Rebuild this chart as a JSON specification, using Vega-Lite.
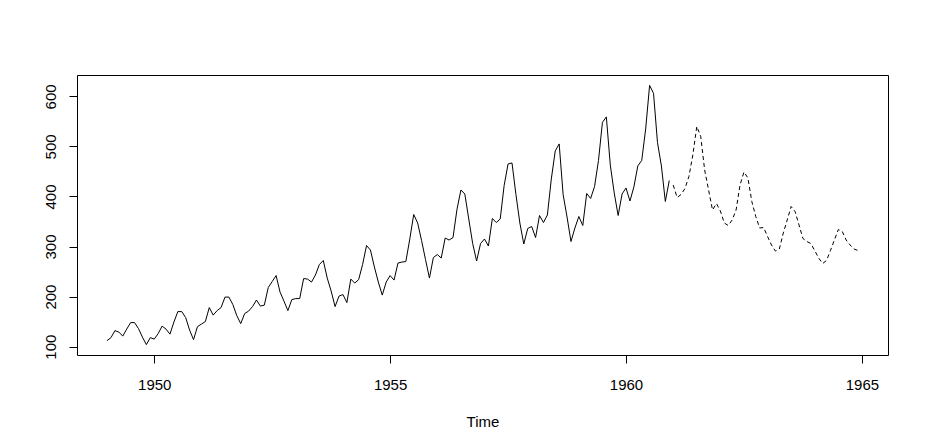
{
  "$schema": "https://vega.github.io/schema/vega-lite/v6.json",
  "width": 811,
  "height": 280,
  "autosize": "none",
  "padding": {"left": 77, "top": 75, "right": 41, "bottom": 89},
  "background": "white",
  "config": {
    "view": {"stroke": "black", "strokeWidth": 1},
    "font": "Liberation Sans",
    "axis": {
      "domain": false,
      "grid": false,
      "tickColor": "black",
      "tickSize": 8,
      "tickWidth": 1,
      "labelColor": "black",
      "labelFont": "Liberation Sans",
      "labelFontSize": 15,
      "labelPadding": 14,
      "titleFont": "Liberation Sans",
      "titleFontSize": 15,
      "titleFontWeight": "normal",
      "titleColor": "black"
    }
  },
  "data": {
    "values": [
      {"t": 1949.0000, "v": 112, "s": "obs"}, {"t": 1949.0833, "v": 118, "s": "obs"}, {"t": 1949.1667, "v": 132, "s": "obs"}, {"t": 1949.2500, "v": 129, "s": "obs"}, {"t": 1949.3333, "v": 121, "s": "obs"}, {"t": 1949.4167, "v": 135, "s": "obs"}, {"t": 1949.5000, "v": 148, "s": "obs"}, {"t": 1949.5833, "v": 148, "s": "obs"}, {"t": 1949.6667, "v": 136, "s": "obs"}, {"t": 1949.7500, "v": 119, "s": "obs"}, {"t": 1949.8333, "v": 104, "s": "obs"}, {"t": 1949.9167, "v": 118, "s": "obs"},
      {"t": 1950.0000, "v": 115, "s": "obs"}, {"t": 1950.0833, "v": 126, "s": "obs"}, {"t": 1950.1667, "v": 141, "s": "obs"}, {"t": 1950.2500, "v": 135, "s": "obs"}, {"t": 1950.3333, "v": 125, "s": "obs"}, {"t": 1950.4167, "v": 149, "s": "obs"}, {"t": 1950.5000, "v": 170, "s": "obs"}, {"t": 1950.5833, "v": 170, "s": "obs"}, {"t": 1950.6667, "v": 158, "s": "obs"}, {"t": 1950.7500, "v": 133, "s": "obs"}, {"t": 1950.8333, "v": 114, "s": "obs"}, {"t": 1950.9167, "v": 140, "s": "obs"},
      {"t": 1951.0000, "v": 145, "s": "obs"}, {"t": 1951.0833, "v": 150, "s": "obs"}, {"t": 1951.1667, "v": 178, "s": "obs"}, {"t": 1951.2500, "v": 163, "s": "obs"}, {"t": 1951.3333, "v": 172, "s": "obs"}, {"t": 1951.4167, "v": 178, "s": "obs"}, {"t": 1951.5000, "v": 199, "s": "obs"}, {"t": 1951.5833, "v": 199, "s": "obs"}, {"t": 1951.6667, "v": 184, "s": "obs"}, {"t": 1951.7500, "v": 162, "s": "obs"}, {"t": 1951.8333, "v": 146, "s": "obs"}, {"t": 1951.9167, "v": 166, "s": "obs"},
      {"t": 1952.0000, "v": 171, "s": "obs"}, {"t": 1952.0833, "v": 180, "s": "obs"}, {"t": 1952.1667, "v": 193, "s": "obs"}, {"t": 1952.2500, "v": 181, "s": "obs"}, {"t": 1952.3333, "v": 183, "s": "obs"}, {"t": 1952.4167, "v": 218, "s": "obs"}, {"t": 1952.5000, "v": 230, "s": "obs"}, {"t": 1952.5833, "v": 242, "s": "obs"}, {"t": 1952.6667, "v": 209, "s": "obs"}, {"t": 1952.7500, "v": 191, "s": "obs"}, {"t": 1952.8333, "v": 172, "s": "obs"}, {"t": 1952.9167, "v": 194, "s": "obs"},
      {"t": 1953.0000, "v": 196, "s": "obs"}, {"t": 1953.0833, "v": 196, "s": "obs"}, {"t": 1953.1667, "v": 236, "s": "obs"}, {"t": 1953.2500, "v": 235, "s": "obs"}, {"t": 1953.3333, "v": 229, "s": "obs"}, {"t": 1953.4167, "v": 243, "s": "obs"}, {"t": 1953.5000, "v": 264, "s": "obs"}, {"t": 1953.5833, "v": 272, "s": "obs"}, {"t": 1953.6667, "v": 237, "s": "obs"}, {"t": 1953.7500, "v": 211, "s": "obs"}, {"t": 1953.8333, "v": 180, "s": "obs"}, {"t": 1953.9167, "v": 201, "s": "obs"},
      {"t": 1954.0000, "v": 204, "s": "obs"}, {"t": 1954.0833, "v": 188, "s": "obs"}, {"t": 1954.1667, "v": 235, "s": "obs"}, {"t": 1954.2500, "v": 227, "s": "obs"}, {"t": 1954.3333, "v": 234, "s": "obs"}, {"t": 1954.4167, "v": 264, "s": "obs"}, {"t": 1954.5000, "v": 302, "s": "obs"}, {"t": 1954.5833, "v": 293, "s": "obs"}, {"t": 1954.6667, "v": 259, "s": "obs"}, {"t": 1954.7500, "v": 229, "s": "obs"}, {"t": 1954.8333, "v": 203, "s": "obs"}, {"t": 1954.9167, "v": 229, "s": "obs"},
      {"t": 1955.0000, "v": 242, "s": "obs"}, {"t": 1955.0833, "v": 233, "s": "obs"}, {"t": 1955.1667, "v": 267, "s": "obs"}, {"t": 1955.2500, "v": 269, "s": "obs"}, {"t": 1955.3333, "v": 270, "s": "obs"}, {"t": 1955.4167, "v": 315, "s": "obs"}, {"t": 1955.5000, "v": 364, "s": "obs"}, {"t": 1955.5833, "v": 347, "s": "obs"}, {"t": 1955.6667, "v": 312, "s": "obs"}, {"t": 1955.7500, "v": 274, "s": "obs"}, {"t": 1955.8333, "v": 237, "s": "obs"}, {"t": 1955.9167, "v": 278, "s": "obs"},
      {"t": 1956.0000, "v": 284, "s": "obs"}, {"t": 1956.0833, "v": 277, "s": "obs"}, {"t": 1956.1667, "v": 317, "s": "obs"}, {"t": 1956.2500, "v": 313, "s": "obs"}, {"t": 1956.3333, "v": 318, "s": "obs"}, {"t": 1956.4167, "v": 374, "s": "obs"}, {"t": 1956.5000, "v": 413, "s": "obs"}, {"t": 1956.5833, "v": 405, "s": "obs"}, {"t": 1956.6667, "v": 355, "s": "obs"}, {"t": 1956.7500, "v": 306, "s": "obs"}, {"t": 1956.8333, "v": 271, "s": "obs"}, {"t": 1956.9167, "v": 306, "s": "obs"},
      {"t": 1957.0000, "v": 315, "s": "obs"}, {"t": 1957.0833, "v": 301, "s": "obs"}, {"t": 1957.1667, "v": 356, "s": "obs"}, {"t": 1957.2500, "v": 348, "s": "obs"}, {"t": 1957.3333, "v": 355, "s": "obs"}, {"t": 1957.4167, "v": 422, "s": "obs"}, {"t": 1957.5000, "v": 465, "s": "obs"}, {"t": 1957.5833, "v": 467, "s": "obs"}, {"t": 1957.6667, "v": 404, "s": "obs"}, {"t": 1957.7500, "v": 347, "s": "obs"}, {"t": 1957.8333, "v": 305, "s": "obs"}, {"t": 1957.9167, "v": 336, "s": "obs"},
      {"t": 1958.0000, "v": 340, "s": "obs"}, {"t": 1958.0833, "v": 318, "s": "obs"}, {"t": 1958.1667, "v": 362, "s": "obs"}, {"t": 1958.2500, "v": 348, "s": "obs"}, {"t": 1958.3333, "v": 363, "s": "obs"}, {"t": 1958.4167, "v": 435, "s": "obs"}, {"t": 1958.5000, "v": 491, "s": "obs"}, {"t": 1958.5833, "v": 505, "s": "obs"}, {"t": 1958.6667, "v": 404, "s": "obs"}, {"t": 1958.7500, "v": 359, "s": "obs"}, {"t": 1958.8333, "v": 310, "s": "obs"}, {"t": 1958.9167, "v": 337, "s": "obs"},
      {"t": 1959.0000, "v": 360, "s": "obs"}, {"t": 1959.0833, "v": 342, "s": "obs"}, {"t": 1959.1667, "v": 406, "s": "obs"}, {"t": 1959.2500, "v": 396, "s": "obs"}, {"t": 1959.3333, "v": 420, "s": "obs"}, {"t": 1959.4167, "v": 472, "s": "obs"}, {"t": 1959.5000, "v": 548, "s": "obs"}, {"t": 1959.5833, "v": 559, "s": "obs"}, {"t": 1959.6667, "v": 463, "s": "obs"}, {"t": 1959.7500, "v": 407, "s": "obs"}, {"t": 1959.8333, "v": 362, "s": "obs"}, {"t": 1959.9167, "v": 405, "s": "obs"},
      {"t": 1960.0000, "v": 417, "s": "obs"}, {"t": 1960.0833, "v": 391, "s": "obs"}, {"t": 1960.1667, "v": 419, "s": "obs"}, {"t": 1960.2500, "v": 461, "s": "obs"}, {"t": 1960.3333, "v": 472, "s": "obs"}, {"t": 1960.4167, "v": 535, "s": "obs"}, {"t": 1960.5000, "v": 622, "s": "obs"}, {"t": 1960.5833, "v": 606, "s": "obs"}, {"t": 1960.6667, "v": 508, "s": "obs"}, {"t": 1960.7500, "v": 461, "s": "obs"}, {"t": 1960.8333, "v": 390, "s": "obs"}, {"t": 1960.9167, "v": 432, "s": "obs"},
      {"t": 1961.0000, "v": 423, "s": "pred"}, {"t": 1961.0833, "v": 398, "s": "pred"}, {"t": 1961.1667, "v": 404, "s": "pred"}, {"t": 1961.2500, "v": 416, "s": "pred"}, {"t": 1961.3333, "v": 440, "s": "pred"}, {"t": 1961.4167, "v": 483, "s": "pred"}, {"t": 1961.5000, "v": 540, "s": "pred"}, {"t": 1961.5833, "v": 520, "s": "pred"}, {"t": 1961.6667, "v": 453, "s": "pred"}, {"t": 1961.7500, "v": 413, "s": "pred"}, {"t": 1961.8333, "v": 373, "s": "pred"}, {"t": 1961.9167, "v": 386, "s": "pred"},
      {"t": 1962.0000, "v": 371, "s": "pred"}, {"t": 1962.0833, "v": 347, "s": "pred"}, {"t": 1962.1667, "v": 342, "s": "pred"}, {"t": 1962.2500, "v": 353, "s": "pred"}, {"t": 1962.3333, "v": 373, "s": "pred"}, {"t": 1962.4167, "v": 423, "s": "pred"}, {"t": 1962.5000, "v": 449, "s": "pred"}, {"t": 1962.5833, "v": 437, "s": "pred"}, {"t": 1962.6667, "v": 390, "s": "pred"}, {"t": 1962.7500, "v": 360, "s": "pred"}, {"t": 1962.8333, "v": 337, "s": "pred"}, {"t": 1962.9167, "v": 338, "s": "pred"},
      {"t": 1963.0000, "v": 320, "s": "pred"}, {"t": 1963.0833, "v": 303, "s": "pred"}, {"t": 1963.1667, "v": 291, "s": "pred"}, {"t": 1963.2500, "v": 295, "s": "pred"}, {"t": 1963.3333, "v": 327, "s": "pred"}, {"t": 1963.4167, "v": 353, "s": "pred"}, {"t": 1963.5000, "v": 380, "s": "pred"}, {"t": 1963.5833, "v": 370, "s": "pred"}, {"t": 1963.6667, "v": 343, "s": "pred"}, {"t": 1963.7500, "v": 316, "s": "pred"}, {"t": 1963.8333, "v": 310, "s": "pred"}, {"t": 1963.9167, "v": 306, "s": "pred"},
      {"t": 1964.0000, "v": 292, "s": "pred"}, {"t": 1964.0833, "v": 277, "s": "pred"}, {"t": 1964.1667, "v": 266, "s": "pred"}, {"t": 1964.2500, "v": 272, "s": "pred"}, {"t": 1964.3333, "v": 292, "s": "pred"}, {"t": 1964.4167, "v": 313, "s": "pred"}, {"t": 1964.5000, "v": 334, "s": "pred"}, {"t": 1964.5833, "v": 330, "s": "pred"}, {"t": 1964.6667, "v": 313, "s": "pred"}, {"t": 1964.7500, "v": 303, "s": "pred"}, {"t": 1964.8333, "v": 295, "s": "pred"}, {"t": 1964.9167, "v": 292, "s": "pred"}
    ]
  },
  "encoding": {
    "x": {
      "field": "t",
      "type": "quantitative",
      "scale": {"domain": [1948.363, 1965.553], "nice": false, "zero": false},
      "axis": {"values": [1950, 1955, 1960, 1965], "format": "d", "title": "Time", "titlePadding": 22, "labelFlush": false}
    },
    "y": {
      "field": "v",
      "type": "quantitative",
      "scale": {"domain": [83.28, 642.72], "nice": false, "zero": false},
      "axis": {"values": [100, 200, 300, 400, 500, 600], "format": "d", "title": null, "labelAngle": -90, "labelAlign": "center", "labelBaseline": "alphabetic", "labelFlush": false}
    }
  },
  "layer": [
    {
      "transform": [{"filter": "datum.s === 'obs'"}],
      "mark": {"type": "line", "color": "black", "strokeWidth": 1}
    },
    {
      "transform": [{"filter": "datum.s === 'pred'"}],
      "mark": {"type": "line", "color": "black", "strokeWidth": 1, "strokeDash": [4, 3]}
    }
  ]
}
